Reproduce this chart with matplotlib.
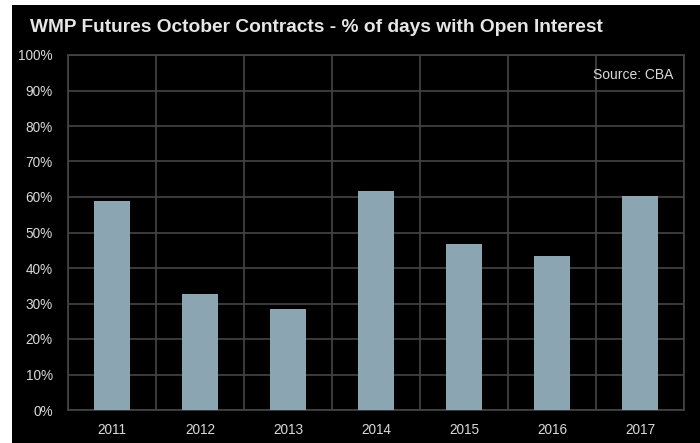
import matplotlib
matplotlib.use("Agg")
import matplotlib.pyplot as plt
from matplotlib.patches import Rectangle
from matplotlib.ticker import FixedLocator, PercentFormatter

years = ["2011", "2012", "2013", "2014", "2015", "2016", "2017"]
pct_days_open_interest = [58.8, 32.7, 28.5, 61.6, 46.7, 43.4, 60.3]
y_ticks = list(range(0, 101, 10))

plt.rcParams["font.family"] = ["Liberation Sans", "DejaVu Sans"]

W, H = 700, 443
fig = plt.figure(figsize=(W / 100, H / 100), dpi=100, facecolor="white")

# black panel behind the chart
fig.patches.append(Rectangle((12 / W, 0), 1 - 12 / W, 1 - 5 / H,
                             transform=fig.transFigure, facecolor="black",
                             edgecolor="none", zorder=-1))

ax = fig.add_axes([68 / W, (H - 410) / H, (684 - 68) / W, (410 - 55) / H])
ax.set_facecolor("black")

grid_c = "#454545"
text_c = "#D9D9D9"
bar_c = "#8BA5B3"

x = list(range(len(years)))
ax.bar(x, pct_days_open_interest, width=0.4, color=bar_c, zorder=3)

ax.set_xlim(-0.5, len(years) - 0.5)
ax.set_ylim(0, 100)
ax.set_xticks(x)
ax.set_xticklabels(years)
ax.xaxis.set_minor_locator(FixedLocator([i + 0.5 for i in range(-1, len(years))]))
ax.set_yticks(y_ticks)
ax.yaxis.set_major_formatter(PercentFormatter(decimals=0))

ax.grid(axis="y", which="major", color=grid_c, lw=1.2, zorder=1)
ax.grid(axis="x", which="minor", color=grid_c, lw=1.2, zorder=1)
ax.grid(axis="x", which="major", visible=False)

for s in ax.spines.values():
    s.set_color(grid_c)
    s.set_linewidth(1.2)

ax.tick_params(axis="both", which="both", length=0, colors=text_c, labelsize=9.8)
ax.tick_params(axis="x", pad=9)
ax.tick_params(axis="y", pad=11)

fig.text(30 / W, 1 - 27 / H, "WMP Futures October Contracts - % of days with Open Interest",
         color="#E6E6E6", fontsize=13.8, fontweight="bold", va="center", ha="left")

ax.text(0.983, 0.945, "Source: CBA", transform=ax.transAxes, color=text_c,
        fontsize=10, ha="right", va="center", zorder=4)

fig.savefig("out.png", dpi=100, facecolor=fig.get_facecolor())
